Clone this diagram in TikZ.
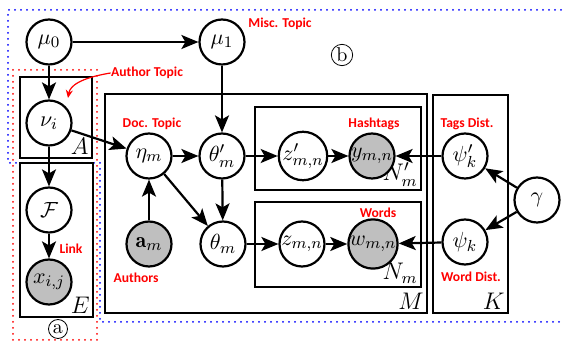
\documentclass[tikz,border=0pt]{standalone}
\usepackage{amsmath}
\usepackage{amssymb}
\usepackage{fontspec}
\newfontfamily\tagfont{Carlito}
\usetikzlibrary{arrows.meta,positioning}

\tikzset{
  latent/.style={circle,draw,line width=1.1pt,minimum size=22.5pt,inner sep=0pt,fill=white,
    font=\fontsize{11}{13}\selectfont},
  obs/.style={latent,fill=black!25},
  plate/.style={draw,line width=1.1pt},
  edge/.style={-{Stealth[length=8.5pt,width=7pt,inset=2pt]},line width=1.1pt},
  tag/.style={text=red,inner sep=0pt,font=\tagfont\bfseries\fontsize{6.8}{8}\selectfont},
  platelbl/.style={anchor=south east,inner sep=1.5pt,font=\fontsize{11.5}{13}\selectfont},
  region/.style={line width=1pt,line cap=round,dash pattern=on 0pt off 3pt},
  marker/.style={circle,draw,line width=0.4pt,inner sep=0.6pt,minimum size=9.5pt}
}

\begin{document}
\begin{tikzpicture}[x=0.5pt,y=-0.5pt]

  \useasboundingbox (0,0) rectangle (563,341);

  % regions a) and b)
  \draw [region,blue] (561,10) -- (8,10) -- (8,163) -- (100,163)
  -- (100,322) -- (561,322);
  \draw [region,red] (13,70) rectangle (97,340);
  \node [marker] (ra) at (58,329) {a};
  \node [marker] (rb) at (342,55) {b};

  % plates
  \draw [plate] (20,77) rectangle (92,158);
  \node [platelbl] (pA) at (92,158) {$A$};
  \draw [plate] (20,163) rectangle (93,317);
  \node [platelbl] (pE) at (93,317) {$E$};
  \draw [plate] (105,94) rectangle (427,313);
  \node [platelbl] (pM) at (427,313) {$M$};
  \draw [plate] (255,107) rectangle (421,190);
  \node [platelbl] (pNp) at (421,190) {$N'_m$};
  \draw [plate] (255,202) rectangle (421,287);
  \node [platelbl] (pN) at (421,287) {$N_m$};
  \draw [plate] (433,95) rectangle (508,313);
  \node [platelbl] (pK) at (508,313) {$K$};

  % variables
  \node [latent] (mu0) at (49,42) {$\mu_0$};
  \node [latent] (mu1) at (222,42) {$\mu_1$};
  \node [latent] (nu) at (49,123) {$\nu_i$};
  \node [latent] (F) at (49,210) {$\mathcal{F}$};
  \node [obs] (x) at (49,282) {$x_{i,j}$};
  \node [latent] (eta) at (149,156) {$\eta_m$};
  \node [obs] (a) at (149,244) {$\mathbf{a}_m$};
  \node [latent] (thetap) at (222,156) {$\theta'_m$};
  \node [latent] (theta) at (223,244) {$\theta_m$};
  \node [latent] (zp) at (303,156) {$z'_{m,n}$};
  \node [obs] (y) at (372,156) {$y_{m,n}$};
  \node [latent] (z) at (302,244) {$z_{m,n}$};
  \node [obs] (w) at (373,244) {$w_{m,n}$};
  \node [latent] (psip) at (465,156) {$\psi'_k$};
  \node [latent] (psi) at (465,242) {$\psi_k$};
  \node [latent] (gam) at (537,200) {$\gamma$};

  % labels
  \node [tag] (lmisc) at (280,24) {Misc. Topic};
  \node [tag] (lauth) at (147,73) {Author Topic};
  \node [tag] (ldoc) at (152,124) {Doc. Topic};
  \node [tag] (lhash) at (374,124) {Hashtags};
  \node [tag] (ltags) at (467,124) {Tags Dist.};
  \node [tag] (lwords) at (378,213) {Words};
  \node [tag] (lwdist) at (471,277) {Word Dist.};
  \node [tag] (llink) at (71,249) {Link};
  \node [tag] (lauthors) at (136,278) {Authors};

  \coordinate (nutip) at (68,98);
  \draw [red,line width=0.6pt,-{Stealth[length=4pt,width=3.5pt]}]
  (lauth.west) .. controls (80,78) and (70,86) .. (nutip);

  % dependencies
  \draw [edge] (mu0) -- (mu1);
  \draw [edge] (mu0) -- (nu);
  \draw [edge] (mu1) -- (thetap);
  \draw [edge] (nu) -- (eta);
  \draw [edge] (nu) -- (F);
  \draw [edge] (F) -- (x);
  \draw [edge] (a) -- (eta);
  \draw [edge] (eta) -- (thetap);
  \draw [edge] (eta) -- (theta);
  \draw [edge] (thetap) -- (theta);
  \draw [edge] (thetap) -- (zp);
  \draw [edge] (zp) -- (y);
  \draw [edge] (theta) -- (z);
  \draw [edge] (z) -- (w);
  \draw [edge] (psip) -- (y);
  \draw [edge] (psi) -- (w);
  \draw [edge] (gam) -- (psip);
  \draw [edge] (gam) -- (psi);

\end{tikzpicture}
\end{document}
